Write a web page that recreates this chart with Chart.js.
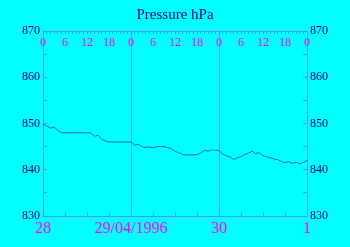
<!DOCTYPE html>
<html>
<head>
<meta charset="utf-8">
<script src="https://cdn.jsdelivr.net/npm/chart.js@4/dist/chart.umd.min.js"></script>
<style>
html,body{margin:0;padding:0;background:#00ffff;}
#wrap{width:350px;height:247px;}
</style>
</head>
<body>
<div id="wrap"><canvas id="c" width="350" height="247"></canvas></div>
<script>
const title = "Pressure hPa";
const hours = [0,1,2,3,4,5,6,7,8,9,10,11,12,13,14,15,16,17,18,19,20,21,22,23,24,
  25,26,27,28,29,30,31,32,33,34,35,36,37,38,39,40,41,42,43,44,45,46,47,48,
  49,50,51,52,53,54,55,56,57,58,59,60,61,62,63,64,65,66,67,68,69,70,71,72];
const pressure = [849.8,849.5,849.0,849.2,848.6,848.0,848.0,848.0,848.0,848.0,848.0,848.0,848.0,848.0,847.2,847.5,846.6,846.2,846.0,846.0,846.0,846.0,846.0,846.0,846.0,
  845.3,845.5,845.0,844.8,845.0,844.7,845.0,845.0,845.0,844.8,844.6,844.0,843.7,843.3,843.2,843.2,843.2,843.3,843.6,844.2,844.0,844.3,844.2,844.2,
  843.4,843.0,842.8,842.2,842.6,842.8,843.3,843.6,844.0,843.5,843.7,843.0,842.8,842.6,842.3,842.2,841.8,841.5,841.8,841.4,841.6,841.3,841.6,842.0];
const dayTicks = [0,6,12,18,24,30,36,42,48,54,60,66,72];
const dayLabels = {0:"28",24:"29/04/1996",48:"30",72:"1"};
const hourTicks = hours;
const hourLabels = ["0","6","12","18"];
const yTicks = [830,835,840,845,850,855,860,865,870];

const axisColor = "#3d9df5";
const gridColor = "#4aa5ff";
const navy = "#000080";
const magenta = "#ff00ff";
const serif = "'Liberation Serif', 'DejaVu Serif', serif";

const bg = {id:'bg',beforeDraw(ch){const c=ch.ctx;c.save();c.fillStyle='#00ffff';c.fillRect(0,0,ch.width,ch.height);c.restore();}};

new Chart(document.getElementById('c'), {
  type: 'line',
  data: { datasets: [{
    data: hours.map((h,i)=>({x:h,y:pressure[i]})),
    borderColor: '#1a68c0', borderWidth: 1, pointRadius: 0, tension: 0, fill: false
  }]},
  options: {
    responsive: false, animation: false,
    layout: { padding: 0 },
    plugins: {
      legend: { display: false }, tooltip: { enabled: false },
      title: { display: true, text: title, color: navy, font: { family: serif, size: 15, weight: 'normal', lineHeight: 1.2 }, padding: { top: 6, bottom: 0 } }
    },
    scales: {
      x: {
        type: 'linear', position: 'bottom', min: 0, max: 72,
        afterBuildTicks: s => { s.ticks = dayTicks.map(v=>({value:v})); },
        afterFit: s => { s.height = 31; },
        ticks: { autoSkip: false, maxRotation: 0, color: magenta, padding: 7,
          font: { family: serif, size: 16 },
          callback: v => dayLabels[v] !== undefined ? dayLabels[v] : '' },
        grid: { color: c => (c.tick && c.tick.value % 24 === 0) ? gridColor : 'rgba(0,0,0,0)', tickColor: axisColor, tickLength: -4, lineWidth: 1 },
        border: { color: axisColor }
      },
      x2: {
        type: 'linear', position: 'top', min: 0, max: 72,
        afterBuildTicks: s => { s.ticks = hourTicks.map(v=>({value:v})); },
        afterFit: s => { s.height = 7; },
        ticks: { autoSkip: false, maxRotation: 0, mirror: true, color: magenta, padding: 5,
          font: { family: serif, size: 12 },
          callback: v => v % 6 === 0 ? hourLabels[(v % 24) / 6] : '' },
        grid: { drawOnChartArea: false, tickColor: axisColor, tickLength: -3 },
        border: { color: axisColor }
      },
      y: {
        type: 'linear', position: 'left', min: 830, max: 870,
        afterBuildTicks: s => { s.ticks = yTicks.map(v=>({value:v})); },
        afterFit: s => { s.width = 43; },
        ticks: { color: navy, padding: 7, font: { family: serif, size: 12 },
          callback: v => v % 10 === 0 ? String(v) : '' },
        grid: { drawOnChartArea: false, tickColor: axisColor, tickLength: -4 },
        border: { color: axisColor }
      },
      y2: {
        type: 'linear', position: 'right', min: 830, max: 870,
        afterBuildTicks: s => { s.ticks = yTicks.map(v=>({value:v})); },
        afterFit: s => { s.width = 43; },
        ticks: { color: navy, padding: 7, font: { family: serif, size: 12 },
          callback: v => v % 10 === 0 ? String(v) : '' },
        grid: { drawOnChartArea: false, tickColor: axisColor, tickLength: -4 },
        border: { color: axisColor }
      }
    }
  },
  plugins: [bg]
});
</script>
</body>
</html>
